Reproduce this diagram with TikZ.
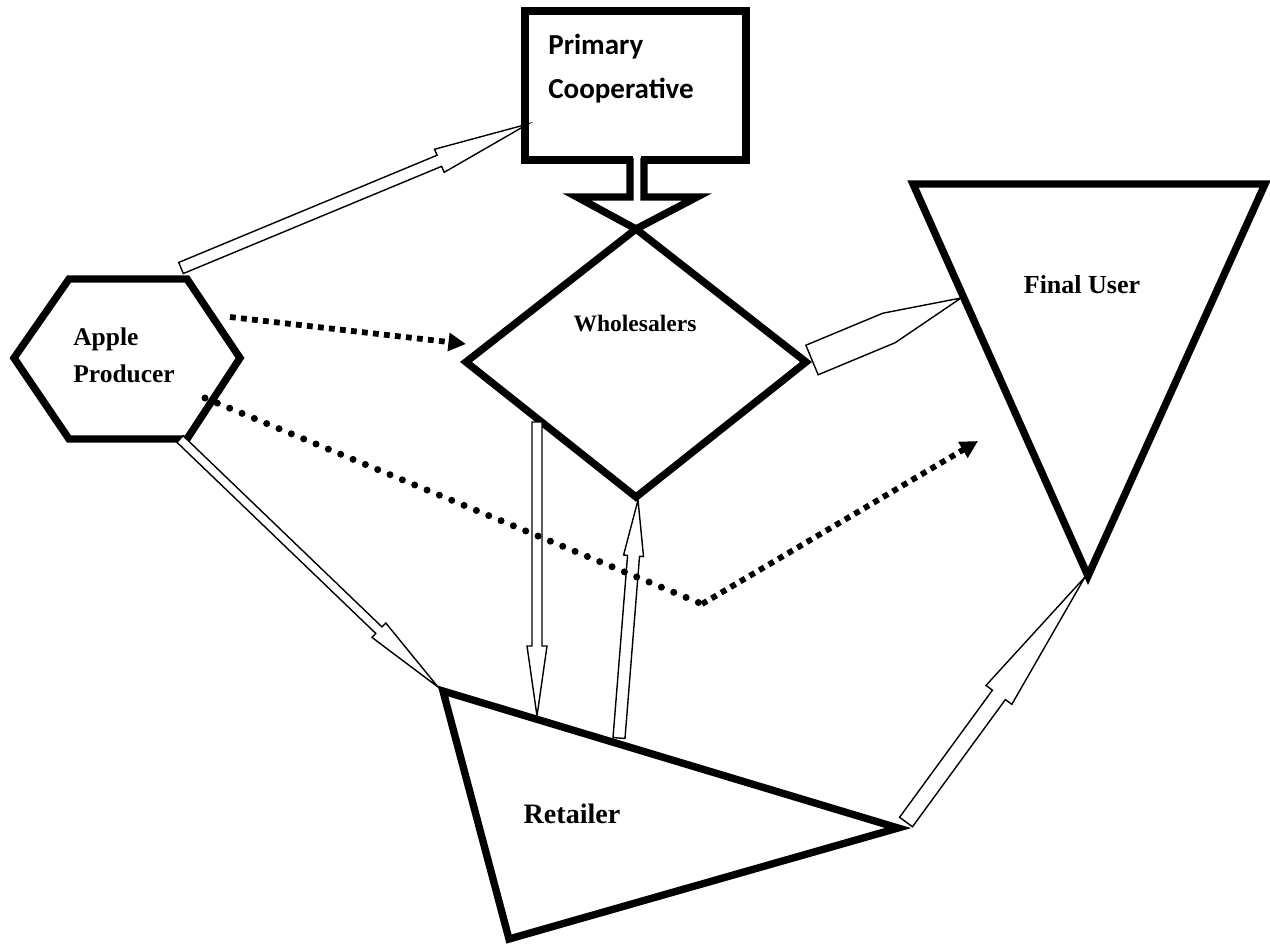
\documentclass[tikz,border=0pt]{standalone}
\usepackage{fontspec}
\setmainfont{Liberation Serif}
\newfontfamily\calfont{Carlito}
\usetikzlibrary{calc,arrows.meta}
\tikzset{
  shapeline/.style={line width=4.2pt, line join=miter},
  blockarr/.style={draw, line width=0.8pt, fill=white, line join=miter},
  rounddots/.style={line width=4pt, line cap=round, dash pattern=on 0pt off 7.6pt},
  sqdots/.style={line width=3.3pt, dash pattern=on 3.3pt off 3pt},
  dothead/.style={-{Triangle[length=10pt,width=10pt]}},
  lbl/.style={inner sep=0pt, align=left},
}
% #1 start, #2 tip, #3 shaft half width, #4 head half width, #5 head length
\newcommand\blockarrow[5]{%
  \coordinate (ba-h) at ($(#2)!#5!(#1)$);
  \draw[blockarr] ($(#1)!#3!90:(#2)$) -- ($(ba-h)!#3!90:(#2)$) -- ($(ba-h)!#4!90:(#2)$)
    -- (#2) -- ($(ba-h)!#4!-90:(#2)$) -- ($(ba-h)!#3!-90:(#2)$) -- ($(#1)!#3!-90:(#2)$) -- cycle;}
\begin{document}
\begin{tikzpicture}[x=0.02cm,y=-0.02cm]
\useasboundingbox (0,0) rectangle (1270,947);

% ---- shapes ----
% Apple producer hexagon
\draw[shapeline] (14,358) coordinate (hexL) -- (69,279) -- (187,279) coordinate (hexTR)
  -- (240,358) coordinate (hexR) -- (187,439) coordinate (hexBR) -- (69,439) -- cycle;
% Primary cooperative rectangle
\draw[shapeline] (525,11) rectangle (746,160);
\coordinate (coopL) at (525,124);
% Wholesalers diamond
\draw[shapeline] (636,229) coordinate (wT) -- (806,362) coordinate (wR)
  -- (636,497) coordinate (wB) -- (466,362) coordinate (wL) -- cycle;
% Final user triangle
\draw[shapeline] (913,184) -- (1265,184) -- (1088,576) coordinate (fB) -- cycle;
% Retailer triangle
\draw[shapeline] (443,691) coordinate (rL) -- (898,828) coordinate (rR) -- (509,939) -- cycle;

% block connector from cooperative to wholesalers
\fill[white] (633,150) rectangle (641,200);
\draw[shapeline] (630,158) -- (630,197) -- (577,197) -- (wT) -- (697,197) -- (644,197) -- (644,158);

% ---- texts ----
\node[lbl, anchor=base west, font=\calfont\bfseries\fontsize{16.5pt}{24.5pt}\selectfont] (coop) at (548,98) {Primary\\Cooperative};
\node[lbl, anchor=base west, font=\bfseries\fontsize{14.5pt}{21pt}\selectfont] (prod) at (73,382) {Apple\\Producer};
\node[lbl, anchor=base, font=\bfseries\fontsize{13.4pt}{16pt}\selectfont] (whole) at (635,331) {Wholesalers};
\node[lbl, anchor=base, font=\bfseries\fontsize{14.8pt}{18pt}\selectfont] (final) at (1082,293) {Final User};
\node[lbl, anchor=base, font=\bfseries\fontsize{16pt}{19pt}\selectfont] (ret) at (572,823) {Retailer};

% ---- connector end points ----
\coordinate (a1s) at (181,268); \coordinate (a1e) at (528,124);
\coordinate (a2s) at (812,360); \coordinate (a2e) at (961,298);
\coordinate (a3s) at (180,439); \coordinate (a3e) at (438,687);
\coordinate (a4s) at (537,422); \coordinate (a4e) at (537,716);
\coordinate (a5s) at (619,738); \coordinate (a5e) at (638,500);
\coordinate (a6s) at (906,822); \coordinate (a6e) at (1085,577);
\coordinate (d1s) at (230,317); \coordinate (d1e) at (466,344);
\coordinate (d2s) at (205,398); \coordinate (d2m) at (702,604); \coordinate (d2e) at (978,441);

% ---- block arrows ----
\blockarrow{a1s}{a1e}{0.12cm}{0.25cm}{1.92cm}
\blockarrow{a2s}{a2e}{0.32cm}{0.32cm}{1.56cm}
\blockarrow{a3s}{a3e}{0.09cm}{0.2cm}{1.64cm}
\blockarrow{a4s}{a4e}{0.1cm}{0.2cm}{1.4cm}
\blockarrow{a5s}{a5e}{0.12cm}{0.2cm}{1.12cm}
\blockarrow{a6s}{a6e}{0.16cm}{0.32cm}{2.92cm}

% ---- dotted arrows ----
\draw[sqdots, dothead] (d1s) -- (d1e);
\draw[rounddots] (d2s) -- (d2m);
\draw[sqdots, dothead] (d2m) -- (d2e);
\end{tikzpicture}
\end{document}
